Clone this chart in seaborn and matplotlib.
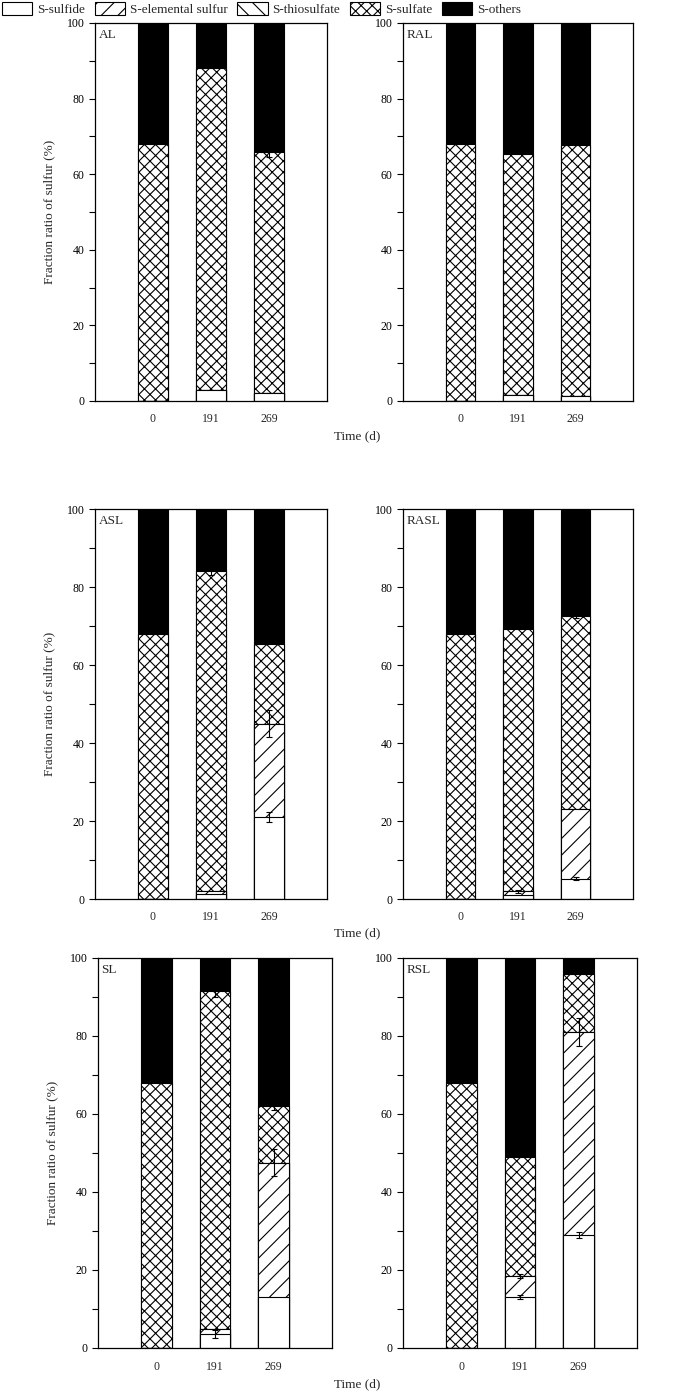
import matplotlib
matplotlib.use("Agg")
import matplotlib.pyplot as plt
import numpy as np
import seaborn as sns
from matplotlib.patches import Patch


PANELS = ["AL", "RAL", "ASL", "RASL", "SL", "RSL"]
DAYS = ["0", "191", "269"]
COMPONENTS = ["S-sulfide", "S-elemental sulfur", "S-thiosulfate", "S-sulfate", "S-others"]

# fractions (%) per panel, for days 0 / 191 / 269
sulfide = [[0, 3, 2], [0, 1.5, 1.2], [0, 1.2, 21], [0, 1, 5.2], [0, 3.5, 13], [0, 13, 29]]
elemental = [[0, 0, 0], [0, 0, 0], [0, 0.8, 24], [0, 1, 18], [0, 1.5, 34.5], [0, 5.5, 52]]
thiosulfate = [[0, 0, 0], [0, 0, 0], [0, 0, 0], [0, 0, 0], [0, 0, 0], [0, 0, 0]]
sulfate = [[68, 85, 64], [68, 63.8, 66.6], [68, 82.2, 20.5], [68, 67.2, 49.4], [68, 86.5, 14.5], [68, 30.5, 15]]
others = [[32, 12, 34], [32, 34.7, 32.2], [32, 15.8, 34.5], [32, 30.8, 27.4], [32, 8.5, 38], [32, 51, 4]]

# error bars (drawn at the top of each segment)
sulfide_err = [[0, 0, 0], [0, 0, 0], [0, 0, 1.2], [0, 0, 0.4], [0, 1, 0], [0, 0.5, 0.8]]
elemental_err = [[0, 0, 0], [0, 0, 0], [0, 0, 3.5], [0, 0.4, 0], [0, 0, 3.5], [0, 0.5, 3.5]]
sulfate_err = [[0, 0, 1.5], [0, 0, 0], [0, 1, 0], [0, 0, 0.5], [0, 1.5, 1], [0, 0, 0]]

STYLES = {
    "S-sulfide": ("white", ""),
    "S-elemental sulfur": ("white", "//"),
    "S-thiosulfate": ("white", "\\\\"),
    "S-sulfate": ("white", "xxx"),
    "S-others": ("black", ""),
}

# axes boxes in pixels: (left, top, right, bottom)
BOXES = [
    (95, 23, 327, 401), (403, 23, 633, 401),
    (95, 509, 327, 899), (403, 509, 633, 899),
    (98, 958, 332, 1348), (403, 958, 637, 1348),
]

W, H = 697, 1396

sns.set_theme(style="ticks")
plt.rcParams["font.family"] = ["Liberation Serif", "DejaVu Serif"]
plt.rcParams["hatch.linewidth"] = 0.8
plt.rcParams["hatch.color"] = "black"

fig = plt.figure(figsize=(W / 100, H / 100), dpi=100)

for i, panel in enumerate(PANELS):
    l, t, r, b = BOXES[i]
    ax = fig.add_axes([l / W, 1 - b / H, (r - l) / W, (b - t) / H])

    layers = np.array([sulfide[i], elemental[i], thiosulfate[i], sulfate[i], others[i]], dtype=float)
    tops = np.cumsum(layers, axis=0)

    # draw cumulative bars from the top layer down so lower layers sit in front
    for k in range(len(COMPONENTS) - 1, -1, -1):
        color, hatch = STYLES[COMPONENTS[k]]
        sns.barplot(
            x=DAYS, y=tops[k], ax=ax, color=color, edgecolor="black",
            hatch=hatch, width=0.52, saturation=1, linewidth=0.8,
        )

    for layer_idx, errs in [(0, sulfide_err[i]), (1, elemental_err[i]), (3, sulfate_err[i])]:
        errs = np.array(errs, dtype=float)
        mask = errs > 0
        if mask.any():
            ax.errorbar(
                np.arange(3)[mask], tops[layer_idx][mask], yerr=errs[mask],
                fmt="none", ecolor="black", elinewidth=0.8, capsize=2.5, capthick=0.8,
            )

    ax.set_xlim(-1, 3)
    ax.set_ylim(0, 100)
    ax.set_yticks(np.arange(0, 101, 20))
    ax.set_yticks(np.arange(10, 100, 20), minor=True)
    ax.tick_params(axis="y", which="both", direction="out", length=4, width=0.8,
                   labelsize=8.5, colors="black")
    ax.tick_params(axis="x", length=0, labelsize=8.5, pad=9)
    for spine in ax.spines.values():
        spine.set_visible(True)
        spine.set_linewidth(0.9)
        spine.set_color("black")
    ax.set_xlabel("")
    ax.set_ylabel("Fraction ratio of sulfur (%)" if i % 2 == 0 else "", fontsize=9.5, labelpad=8)
    ax.text(0.015, 0.985, panel, transform=ax.transAxes, ha="left", va="top", fontsize=9.5)

for y_px in [436, 933, 1384]:
    fig.text(357 / W, 1 - y_px / H, "Time (d)", ha="center", va="center", fontsize=9.5)

handles = [
    Patch(facecolor=STYLES[c][0], edgecolor="black", hatch=STYLES[c][1], linewidth=0.8, label=c)
    for c in COMPONENTS
]
fig.legend(
    handles=handles, loc="upper left", bbox_to_anchor=(0.0, 1.0), ncol=5, frameon=False,
    fontsize=9.5, handlelength=2.3, handleheight=1.15, handletextpad=0.35, columnspacing=0.75,
    borderaxespad=0.05, borderpad=0.1,
)

fig.savefig("out.png", dpi=100)
